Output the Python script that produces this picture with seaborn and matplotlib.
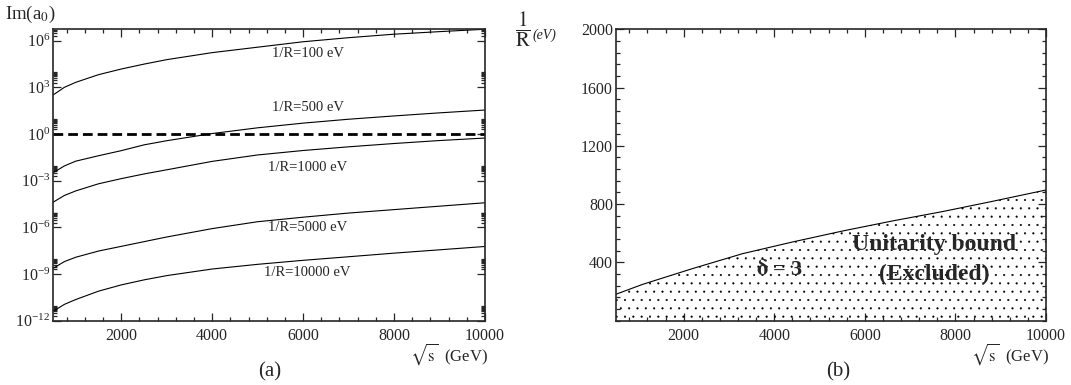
import matplotlib
matplotlib.use("Agg")
import matplotlib.pyplot as plt
import matplotlib.ticker as mticker
import seaborn as sns
import pandas as pd

# (a) Im(a0) vs sqrt(s), one curve per 1/R value
sqrt_s = [500, 750, 1000, 1500, 2000, 2500, 3000, 4000, 5000, 6000, 7000, 8000, 9000, 10000]
im_a0_100 = [3.2e2, 1.0e3, 2.1e3, 6.5e3, 1.5e4, 3.1e4, 6.0e4, 1.7e5, 3.8e5, 8.5e5,
             1.55e6, 2.6e6, 3.8e6, 5.4e6]
im_a0_500 = [3.2e-3, 8.9e-3, 1.8e-2, 4.0e-2, 8.5e-2, 0.20, 0.37, 1.07, 2.5, 5.0,
             8.9, 14.5, 22.9, 34.7]
im_a0_1000 = [4.1e-5, 1.12e-4, 2.2e-4, 6.3e-4, 1.35e-3, 2.7e-3, 5.0e-3, 1.74e-2, 4.5e-2, 8.7e-2,
              0.15, 0.245, 0.38, 0.55]
im_a0_5000 = [2.3e-9, 6.3e-9, 1.2e-8, 3.0e-8, 6.0e-8, 1.2e-7, 2.4e-7, 8.3e-7, 2.3e-6, 4.5e-6,
              8.3e-6, 1.38e-5, 2.3e-5, 3.8e-5]
im_a0_10000 = [4.0e-12, 1.12e-11, 2.3e-11, 7.9e-11, 2.0e-10, 4.2e-10, 7.9e-10, 2.1e-9, 4.2e-9, 7.6e-9,
               1.29e-8, 2.2e-8, 3.6e-8, 5.9e-8]
curve_names = ["1/R=100 eV", "1/R=500 eV", "1/R=1000 eV", "1/R=5000 eV", "1/R=10000 eV"]
label_y = [1.5e5, 50, 7.4e-3, 1.0e-6, 1.3e-9]

# (b) unitarity bound on 1/R, delta = 3
sqrt_s_bound = [500, 1100, 2200, 3300, 4400, 5500, 6600, 7700, 8800, 10000]
inv_r_bound = [181, 250, 358, 460, 540, 615, 684, 748, 818, 897]

sns.set_style("ticks")
plt.rcParams["font.family"] = ["Liberation Serif", "DejaVu Serif"]
plt.rcParams["mathtext.fontset"] = "stix"
plt.rcParams["hatch.linewidth"] = 0.3

fig = plt.figure(figsize=(10.71, 3.85), dpi=100)
axA = fig.add_axes([0.0495, 0.167, 0.4033, 0.757])
axB = fig.add_axes([0.5749, 0.167, 0.4018, 0.757])

all_y = [im_a0_100, im_a0_500, im_a0_1000, im_a0_5000, im_a0_10000]
df = pd.DataFrame({
    "sqrt_s": sqrt_s * len(all_y),
    "im_a0": [v for ys in all_y for v in ys],
    "curve": [n for n in curve_names for _ in sqrt_s],
})
sns.lineplot(data=df, x="sqrt_s", y="im_a0", hue="curve", palette=["black"] * 5,
             legend=False, lw=0.8, estimator=None, ax=axA)
axA.axhline(1.0, color="black", lw=2, ls=(0, (3.5, 1.8)))
axA.set_yscale("log")
axA.set_xlim(500, 10000)
axA.set_ylim(1e-12, 5.4e6)
majors = [10.0 ** k for k in range(-12, 7, 3)]
axA.yaxis.set_major_locator(mticker.FixedLocator(majors))
axA.yaxis.set_major_formatter(mticker.LogFormatterSciNotation())
axA.yaxis.set_minor_locator(mticker.FixedLocator([m * v for v in majors for m in range(2, 10)]))
axA.yaxis.set_minor_formatter(mticker.NullFormatter())
for name, yy in zip(curve_names, label_y):
    axA.text(6100, yy, name, ha="center", va="center", fontsize=10.5)

sns.lineplot(x=sqrt_s_bound, y=inv_r_bound, color="black", lw=0.8, ax=axB)
axB.fill_between(sqrt_s_bound, 0, inv_r_bound, facecolor="none", edgecolor="black",
                 hatch="..", lw=0)
axB.set_xlim(500, 10000)
axB.set_ylim(0, 2000)
axB.yaxis.set_major_locator(mticker.FixedLocator([400, 800, 1200, 1600, 2000]))
axB.yaxis.set_minor_locator(mticker.MultipleLocator(80))
axB.text(4130, 348, r"$\mathbf{\delta}$ = 3", ha="center", va="center",
         fontsize=16, fontweight="bold")
axB.text(7530, 520, "Unitarity bound", ha="center", va="center", fontsize=17, fontweight="bold")
axB.text(7540, 318, "(Excluded)", ha="center", va="center", fontsize=17, fontweight="bold")

for ax in (axA, axB):
    ax.set_xlabel("")
    ax.set_ylabel("")
    ax.xaxis.set_major_locator(mticker.FixedLocator([2000, 4000, 6000, 8000, 10000]))
    ax.xaxis.set_minor_locator(mticker.MultipleLocator(400))
    ax.tick_params(which="both", direction="in", top=True, right=True, width=0.9)
    ax.tick_params(which="major", length=6, labelsize=11.5)
    ax.tick_params(which="minor", length=3)
    ax.tick_params(axis="x", pad=5)
    ax.tick_params(axis="y", pad=2)
    for sp in ax.spines.values():
        sp.set_linewidth(1.2)

W, H = 1071, 385
fig.text(5 / W, 1 - 14 / H, r"Im(a$_0$)", ha="left", va="center", fontsize=13.5)
fig.text(523 / W, 1 - 29 / H, r"$\dfrac{1}{\mathrm{R}}$", ha="center", va="center", fontsize=15)
fig.text(533 / W, 1 - 35 / H, "(eV)", ha="left", va="center", fontsize=10, style="italic")
fig.text(488 / W, 1 - 354 / H, r"$\sqrt{\mathrm{s}}$  (GeV)", ha="right", va="center", fontsize=12)
fig.text(1049 / W, 1 - 354 / H, r"$\sqrt{\mathrm{s}}$  (GeV)", ha="right", va="center", fontsize=12)
fig.text(270 / W, 1 - 372 / H, "(a)", ha="center", va="center", fontsize=15)
fig.text(838 / W, 1 - 372 / H, "(b)", ha="center", va="center", fontsize=15)

fig.savefig("out.png", dpi=100)
